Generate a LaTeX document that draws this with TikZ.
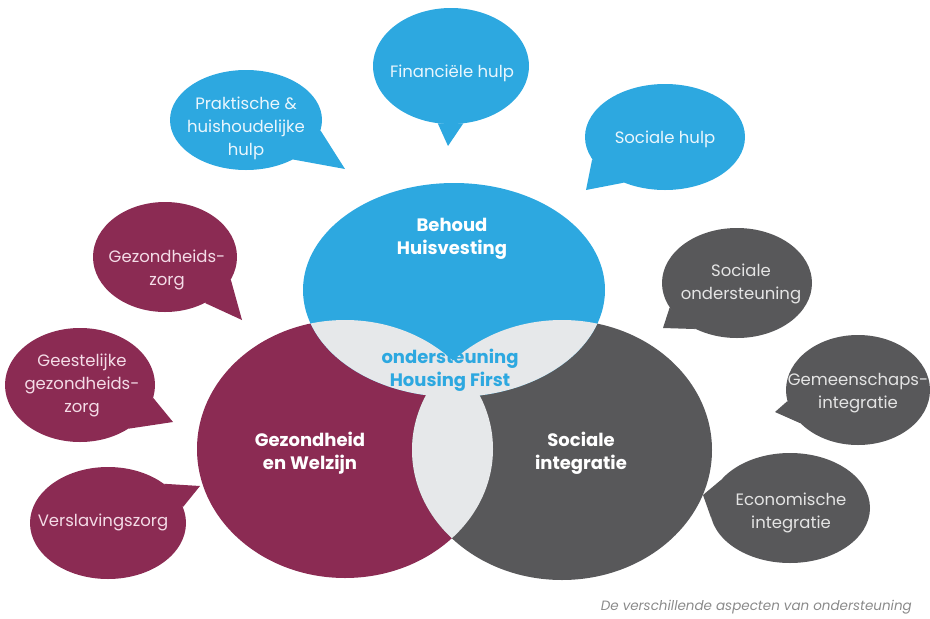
\documentclass[tikz,border=0pt]{standalone}
\usepackage{fontspec}
\setmainfont{Poppins}
\usetikzlibrary{shapes.geometric}
\definecolor{hfblue}{HTML}{2DA8E0}
\definecolor{hfmaroon}{HTML}{8B2B53}
\definecolor{hfgray}{HTML}{58585A}
\definecolor{hflight}{HTML}{E6E8EA}
\definecolor{txtblue}{HTML}{EAF6FD}
\definecolor{txtmaroon}{HTML}{F4DCE7}
\definecolor{txtgray}{HTML}{E4E4E4}
\definecolor{captiongray}{HTML}{8A8A8A}
\begin{document}
\begin{tikzpicture}[x=1pt,y=-1pt,
  bubble/.style={ellipse, inner sep=0pt, draw=none},
  btext/.style={align=center, font=\fontsize{16.5}{23}\selectfont},
  vtext/.style={align=center, font=\fontsize{18}{23}\selectfont\bfseries},
]
\useasboundingbox (0,0) rectangle (930,619);

% Venn circles
\node[bubble, fill=hfmaroon, minimum width=296pt, minimum height=258pt] (gw) at (345,449) {};
\node[bubble, fill=hfgray, minimum width=300pt, minimum height=260pt] (si) at (562,450) {};
\node[bubble, fill=hfblue, minimum width=302pt, minimum height=214pt] (bh) at (454,290) {};
\begin{scope}
  \clip (345,449) ellipse [x radius=148pt, y radius=129pt];
  \fill[hflight] (562,450) ellipse [x radius=150pt, y radius=130pt];
  \fill[hflight] (454,290) ellipse [x radius=151pt, y radius=107pt];
\end{scope}
\begin{scope}
  \clip (562,450) ellipse [x radius=150pt, y radius=130pt];
  \fill[hflight] (454,290) ellipse [x radius=151pt, y radius=107pt];
\end{scope}

\node[vtext, text=white] (t-bh) at (452,239) {Behoud\\Huisvesting};
\node[vtext, text=hfblue] (t-hf) at (450,370) {ondersteuning\\Housing First};
\node[vtext, text=white] (t-gw) at (310,453) {Gezondheid\\en Welzijn};
\node[vtext, text=white] (t-si) at (581,453) {Sociale\\integratie};

% Speech bubbles - blue
\node[bubble, fill=hfblue, minimum width=152pt, minimum height=100pt] (b-prak) at (246,120) {};
\coordinate (tip-prak) at (345,169);
\fill[hfblue] (b-prak.-8) -- (tip-prak) -- (b-prak.-40) -- cycle;
\node[btext, text=txtblue] (t-prak) at (246,128) {Praktische \&\\huishoudelijke\\hulp};

\node[bubble, fill=hfblue, minimum width=156pt, minimum height=116pt] (b-fin) at (451,66) {};
\coordinate (tip-fin) at (448,146);
\fill[hfblue] (b-fin.-103) -- (tip-fin) -- (b-fin.-78) -- cycle;
\node[btext, text=txtblue] (t-fin) at (452,73) {Financiële hulp};

\node[bubble, fill=hfblue, minimum width=160pt, minimum height=106pt] (b-soc) at (665,137) {};
\coordinate (tip-soc) at (586,190);
\fill[hfblue] (b-soc.-163) -- (tip-soc) -- (b-soc.-132) -- cycle;
\node[btext, text=txtblue] (t-soc) at (665,139) {Sociale hulp};

% Speech bubbles - maroon
\node[bubble, fill=hfmaroon, minimum width=144pt, minimum height=110pt] (b-gez) at (165,257) {};
\coordinate (tip-gez) at (242,320);
\fill[hfmaroon] (b-gez.-19) -- (tip-gez) -- (b-gez.-49) -- cycle;
\node[btext, text=txtmaroon] (t-gez) at (167,270) {Gezondheids-\\zorg};

\node[bubble, fill=hfmaroon, minimum width=150pt, minimum height=114pt] (b-gee) at (80,385) {};
\coordinate (tip-gee) at (173,422);
\fill[hfmaroon] (b-gee.-10) -- (tip-gee) -- (b-gee.-42) -- cycle;
\node[btext, text=txtmaroon] (t-gee) at (82,385) {Geestelijke\\gezondheids-\\zorg};

\node[bubble, fill=hfmaroon, minimum width=156pt, minimum height=112pt] (b-ver) at (108,523) {};
\coordinate (tip-ver) at (200,486);
\fill[hfmaroon] (b-ver.35) -- (tip-ver) -- (b-ver.12) -- cycle;
\node[btext, text=txtmaroon] (t-ver) at (103,522) {Verslavingszorg};

% Speech bubbles - gray
\node[bubble, fill=hfgray, minimum width=150pt, minimum height=110pt] (b-son) at (737,283) {};
\coordinate (tip-son) at (663,328);
\fill[hfgray] (b-son.-160) -- (tip-son) -- (b-son.-132) -- cycle;
\node[btext, text=txtgray] (t-son) at (741,284) {Sociale\\ondersteuning};

\node[bubble, fill=hfgray, minimum width=144pt, minimum height=110pt] (b-gem) at (858,390) {};
\coordinate (tip-gem) at (775,412);
\fill[hfgray] (b-gem.-171) -- (tip-gem) -- (b-gem.-150) -- cycle;
\node[btext, text=txtgray] (t-gem) at (858,393) {Gemeenschaps-\\integratie};

\node[bubble, fill=hfgray, minimum width=160pt, minimum height=110pt] (b-eco) at (790,508) {};
\coordinate (tip-eco) at (703,495);
\fill[hfgray] (b-eco.158) -- (tip-eco) -- (b-eco.187) -- cycle;
\node[btext, text=txtgray] (t-eco) at (791,513) {Economische\\integratie};

% Caption
\node[anchor=east, inner sep=0pt, font=\itshape\fontsize{13.5}{15}\selectfont, text=captiongray] (cap) at (912,607) {De verschillende aspecten van ondersteuning};
\end{tikzpicture}
\end{document}
